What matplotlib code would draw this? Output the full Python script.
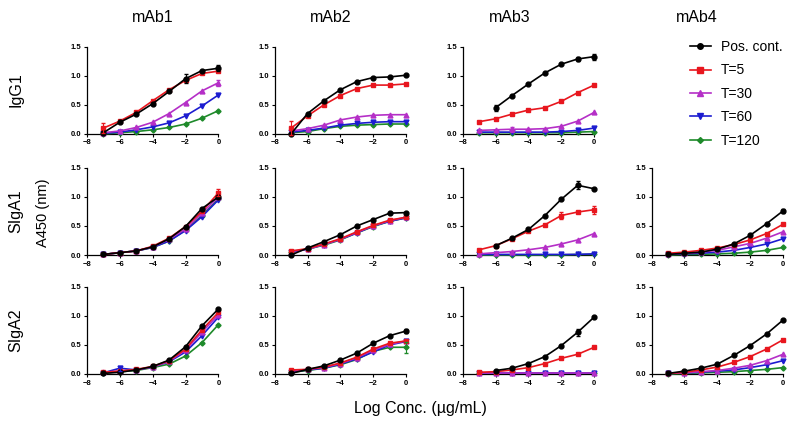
import matplotlib
matplotlib.use("Agg")
import matplotlib.pyplot as plt
from matplotlib.lines import Line2D

plt.rcParams['font.family'] = ['Liberation Sans', 'DejaVu Sans']

# log concentration
log_conc = [-7, -6, -5, -4, -3, -2, -1, 0]

mabs = ["mAb1", "mAb2", "mAb3", "mAb4"]
isotypes = ["IgG1", "SIgA1", "SIgA2"]
series = ["Pos. cont.", "T=5", "T=30", "T=60", "T=120"]
colors = ["black", "#E8161E", "#B52FC7", "#1C1CD0", "#1E8A2A"]
markers = ["o", "s", "^", "v", "D"]

# A450 values, one list per series (None = not measured)
igg1_mab1 = [
    [0.02, 0.20, 0.34, 0.52, 0.73, 0.95, 1.09, 1.13],
    [0.10, 0.22, 0.37, 0.57, 0.76, 0.92, 1.04, 1.08],
    [0.02, 0.05, 0.11, 0.20, 0.35, 0.54, 0.74, 0.88],
    [0.01, 0.03, 0.07, 0.12, 0.19, 0.31, 0.48, 0.67],
    [0.00, 0.02, 0.04, 0.07, 0.11, 0.17, 0.27, 0.40],
]
igg1_mab2 = [
    [0.00, 0.35, 0.57, 0.76, 0.90, 0.97, 0.98, 1.01],
    [0.10, 0.31, 0.50, 0.66, 0.78, 0.84, 0.84, 0.86],
    [0.05, 0.09, 0.15, 0.24, 0.29, 0.32, 0.33, 0.33],
    [0.03, 0.06, 0.10, 0.15, 0.18, 0.20, 0.21, 0.21],
    [0.02, 0.04, 0.09, 0.13, 0.15, 0.16, 0.17, 0.17],
]
igg1_mab3 = [
    [None, 0.45, 0.66, 0.86, 1.05, 1.20, 1.29, 1.33],
    [0.21, 0.26, 0.34, 0.41, 0.45, 0.56, 0.71, 0.84],
    [0.06, 0.07, 0.08, 0.08, 0.09, 0.13, 0.22, 0.37],
    [0.03, 0.03, 0.03, 0.03, 0.03, 0.04, 0.06, 0.10],
    [0.02, 0.02, 0.02, 0.02, 0.02, 0.02, 0.03, 0.04],
]
siga1_mab1 = [
    [0.01, 0.04, 0.07, 0.14, 0.28, 0.49, 0.80, 1.00],
    [0.01, 0.04, 0.07, 0.15, 0.29, 0.49, 0.75, 1.07],
    [0.01, 0.04, 0.07, 0.14, 0.27, 0.45, 0.72, 1.00],
    [0.01, 0.04, 0.07, 0.13, 0.24, 0.42, 0.66, 0.95],
    [0.01, 0.04, 0.07, 0.13, 0.24, 0.43, 0.68, 0.96],
]
siga1_mab2 = [
    [0.00, 0.12, 0.23, 0.35, 0.50, 0.61, 0.72, 0.73],
    [0.07, 0.11, 0.19, 0.28, 0.40, 0.51, 0.60, 0.65],
    [0.06, 0.10, 0.18, 0.27, 0.39, 0.50, 0.59, 0.65],
    [0.05, 0.10, 0.18, 0.27, 0.38, 0.50, 0.58, 0.64],
    [0.05, 0.10, 0.17, 0.26, 0.38, 0.49, 0.58, 0.64],
]
siga1_mab3 = [
    [None, 0.16, 0.29, 0.44, 0.68, 0.96, 1.20, 1.14],
    [0.09, 0.16, 0.28, 0.41, 0.52, 0.68, 0.74, 0.78],
    [0.02, 0.04, 0.06, 0.09, 0.13, 0.19, 0.26, 0.37],
    [0.01, 0.01, 0.01, 0.01, 0.01, 0.01, 0.01, 0.02],
    [0.00, 0.00, 0.00, 0.00, 0.00, 0.00, 0.01, 0.01],
]
siga1_mab4 = [
    [0.01, 0.03, 0.05, 0.10, 0.19, 0.34, 0.54, 0.76],
    [0.03, 0.05, 0.08, 0.12, 0.18, 0.26, 0.37, 0.53],
    [0.02, 0.03, 0.05, 0.08, 0.14, 0.20, 0.29, 0.40],
    [0.01, 0.02, 0.03, 0.05, 0.08, 0.13, 0.19, 0.28],
    [0.00, 0.01, 0.01, 0.02, 0.03, 0.05, 0.08, 0.13],
]
siga2_mab1 = [
    [0.01, 0.03, 0.07, 0.13, 0.24, 0.47, 0.83, 1.12],
    [0.03, 0.05, 0.08, 0.13, 0.23, 0.43, 0.76, 1.06],
    [0.03, 0.05, 0.07, 0.12, 0.22, 0.41, 0.72, 1.02],
    [0.02, 0.10, 0.07, 0.12, 0.21, 0.38, 0.66, 0.98],
    [0.02, 0.04, 0.06, 0.11, 0.17, 0.31, 0.54, 0.85],
]
siga2_mab2 = [
    [0.01, 0.08, 0.14, 0.24, 0.36, 0.53, 0.66, 0.74],
    [0.07, 0.08, 0.12, 0.19, 0.29, 0.43, 0.53, 0.57],
    [0.05, 0.08, 0.11, 0.18, 0.28, 0.41, 0.51, 0.57],
    [0.04, 0.07, 0.10, 0.17, 0.26, 0.38, 0.50, 0.56],
    [0.03, 0.06, 0.10, 0.16, 0.25, 0.39, 0.46, 0.46],
]
siga2_mab3 = [
    [None, 0.06, 0.10, 0.18, 0.30, 0.49, 0.72, 0.98],
    [0.03, 0.04, 0.07, 0.11, 0.18, 0.27, 0.34, 0.46],
    [0.01, 0.01, 0.01, 0.01, 0.01, 0.01, 0.01, 0.01],
    [0.01, 0.01, 0.01, 0.01, 0.01, 0.01, 0.01, 0.01],
    [0.01, 0.01, 0.01, 0.01, 0.01, 0.01, 0.01, 0.01],
]
siga2_mab4 = [
    [0.01, 0.05, 0.10, 0.17, 0.32, 0.49, 0.69, 0.93],
    [0.01, 0.03, 0.07, 0.12, 0.20, 0.30, 0.43, 0.59],
    [0.01, 0.02, 0.04, 0.06, 0.10, 0.15, 0.23, 0.34],
    [0.01, 0.02, 0.03, 0.05, 0.07, 0.11, 0.16, 0.23],
    [0.00, 0.01, 0.02, 0.03, 0.04, 0.06, 0.08, 0.11],
]

panels = {
    (0, 0): igg1_mab1, (0, 1): igg1_mab2, (0, 2): igg1_mab3,
    (1, 0): siga1_mab1, (1, 1): siga1_mab2, (1, 2): siga1_mab3, (1, 3): siga1_mab4,
    (2, 0): siga2_mab1, (2, 1): siga2_mab2, (2, 2): siga2_mab3, (2, 3): siga2_mab4,
}

# a few visible error bars: (row, col, series, index, sd)
errors = [
    (0, 0, 1, 0, 0.08), (0, 0, 0, 5, 0.08), (0, 0, 0, 7, 0.05), (0, 0, 2, 7, 0.05),
    (0, 1, 1, 0, 0.12),
    (0, 2, 0, 1, 0.05), (0, 2, 0, 7, 0.05), (0, 2, 0, 6, 0.03), (0, 2, 2, 2, 0.04),
    (1, 0, 1, 7, 0.06),
    (1, 2, 0, 6, 0.07), (1, 2, 1, 5, 0.06), (1, 2, 1, 7, 0.07),
    (1, 3, 0, 7, 0.04),
    (2, 0, 3, 1, 0.04),
    (2, 1, 0, 7, 0.04), (2, 1, 4, 7, 0.09),
    (2, 2, 0, 6, 0.06),
]

fig = plt.figure(figsize=(7.87, 4.25), dpi=100)

lefts = [0.1105, 0.349, 0.588, 0.828]
bottoms = [0.685, 0.40, 0.12]
w, h = 0.167, 0.205

for (r, c), data in panels.items():
    ax = fig.add_axes([lefts[c], bottoms[r], w, h])
    for s, vals in enumerate(data):
        xs = [x for x, v in zip(log_conc, vals) if v is not None]
        ys = [v for v in vals if v is not None]
        ms = 3.5 if markers[s] != "D" else 2.6
        ax.plot(xs, ys, color=colors[s], marker=markers[s], ms=ms, lw=1.2,
                clip_on=False, zorder=3 + (5 - s) * 0.1)
    for er, ec, s, i, sd in errors:
        if (er, ec) == (r, c):
            ax.errorbar(log_conc[i], data[s][i], yerr=sd, color=colors[s],
                        capsize=1.5, lw=0.8, clip_on=False, zorder=4)
    ax.set_xlim(-8, 0)
    ax.set_ylim(0, 1.5)
    ax.set_xticks([-8, -6, -4, -2, 0])
    ax.set_yticks([0, 0.5, 1.0, 1.5])
    ax.set_yticklabels(["0.0", "0.5", "1.0", "1.5"])
    ax.tick_params(labelsize=5.5, width=0.8, length=2.5, pad=1.5)
    for lab in ax.get_xticklabels() + ax.get_yticklabels():
        lab.set_fontweight("bold")
    ax.spines["top"].set_visible(False)
    ax.spines["right"].set_visible(False)
    ax.spines["left"].set_linewidth(0.9)
    ax.spines["bottom"].set_linewidth(0.9)

# column titles
centers = [153, 331, 510, 697]
for c, name in enumerate(mabs):
    fig.text(centers[c] / 787, 1 - 18 / 425, name, ha="center", va="center", fontsize=11.5)

# row labels
row_y = [90, 211, 330]
for r, name in enumerate(isotypes):
    fig.text(16 / 787, 1 - row_y[r] / 425, name, ha="center", va="center",
             rotation=90, fontsize=11.5)

fig.text(43 / 787, 1 - 213 / 425, "A450 (nm)", ha="center", va="center",
         rotation=90, fontsize=10.5)
fig.text(420 / 787, 1 - 408 / 425, "Log Conc. (µg/mL)", ha="center", va="center",
         fontsize=11.5)

handles = [Line2D([0], [0], color=colors[s], marker=markers[s], lw=1.2,
                  ms=4 if markers[s] != "D" else 3) for s in range(5)]
fig.legend(handles, series, loc="upper left", bbox_to_anchor=(690 / 787, 1 - 40 / 425),
           frameon=False, fontsize=10, handlelength=1.5, handletextpad=0.7,
           labelspacing=0.68, borderaxespad=0, borderpad=0)

fig.savefig("out.png", dpi=100)
